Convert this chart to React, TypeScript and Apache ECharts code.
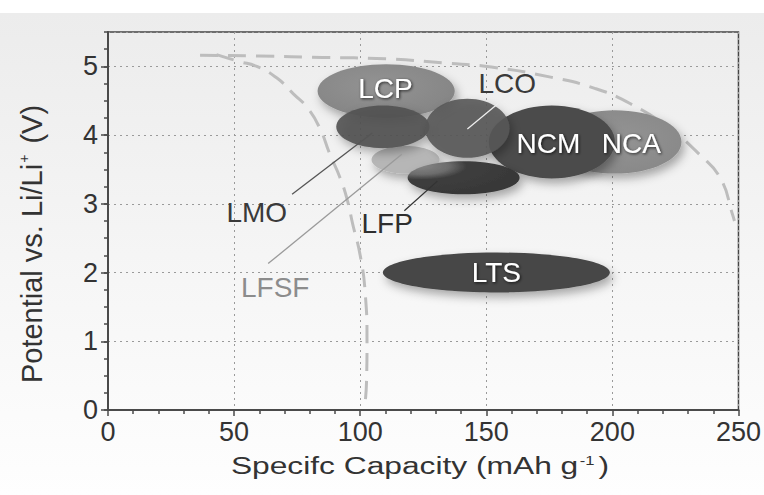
import React, { useEffect, useRef } from "react";
import * as echarts from "echarts";

// Cathode / anode material regions: centre and half-span on each axis
const materials = ["LCP", "LFSF", "LMO", "NCA", "NCM", "LCO", "LFP", "LTS"];
const capCenter = [110.3, 118, 109, 201, 176, 142.5, 141, 154];
const capHalf = [27.2, 13.5, 18.5, 26.4, 25, 16.7, 22.2, 45];
const volCenter = [4.64, 3.64, 4.12, 3.9, 3.9, 4.1, 3.38, 2.0];
const volHalf = [0.39, 0.2, 0.31, 0.46, 0.53, 0.43, 0.24, 0.29];

// Region labels and where they sit (data coordinates)
const labelNames = ["LCP", "LCO", "NCM", "NCA", "LMO", "LFSF", "LFP", "LTS"];
const labelCap = [110, 158.3, 174.6, 207.5, 59, 66.3, 110.7, 154];
const labelVol = [4.68, 4.75, 3.88, 3.88, 2.88, 1.78, 2.72, 2.0];

// Leader lines from outside labels to their regions
const leaderNames = ["LCO", "LMO", "LFSF", "LFP"];
const leaderFromCap = [159, 73, 63.5, 117.5];
const leaderFromVol = [4.59, 3.14, 2.13, 2.9];
const leaderToCap = [142.5, 104.8, 116.5, 130.6];
const leaderToVol = [4.09, 4.03, 3.72, 3.33];

// Dashed boundary curves
const outerCap = [36.5, 60, 85, 110, 133, 152, 176, 193, 207, 222.5, 234.5, 243, 247.6, 248.4];
const outerVol = [5.16, 5.15, 5.13, 5.11, 5.05, 4.99, 4.84, 4.68, 4.46, 4.1, 3.72, 3.36, 2.85, 2.75];
const innerCap = [43, 52, 59, 67, 73.5, 79, 84, 88, 92, 95, 97, 100, 102, 102.7, 102.5, 102];
const innerVol = [5.17, 5.07, 5.0, 4.83, 4.6, 4.4, 4.1, 3.72, 3.38, 3.04, 2.71, 2.25, 1.7, 1.0, 0.4, 0.12];

const xTicks = [0, 50, 100, 150, 200, 250];

const FONT = "'Liberation Sans', Arial, Helvetica, sans-serif";

const regionFill: Record<string, any> = {
  LCP: new echarts.graphic.RadialGradient(0.45, 0.4, 0.7, [
    { offset: 0, color: "#939393" },
    { offset: 1, color: "#838383" },
  ]),
  LFSF: "#b6b6b6",
  LMO: "rgba(82,82,82,0.9)",
  NCA: new echarts.graphic.RadialGradient(0.5, 0.45, 0.7, [
    { offset: 0, color: "#949494" },
    { offset: 1, color: "#868686" },
  ]),
  NCM: "#4b4b4b",
  LCO: "rgba(86,86,86,0.9)",
  LFP: new echarts.graphic.RadialGradient(0.12, 0.15, 0.9, [
    { offset: 0, color: "#858585" },
    { offset: 0.28, color: "#6c6c6c" },
    { offset: 0.45, color: "#3e3e3e" },
    { offset: 1, color: "#383838" },
  ]),
  LTS: "#464646",
};

const labelColor: Record<string, string> = {
  LCP: "#ffffff",
  LCO: "#3a3a3a",
  NCM: "#ffffff",
  NCA: "#ffffff",
  LMO: "#3a3a3a",
  LFSF: "#8c8c8c",
  LFP: "#2e2e2e",
  LTS: "#ffffff",
};

const leaderColor: Record<string, string> = {
  LCO: "#eeeeee",
  LMO: "#555555",
  LFSF: "#9a9a9a",
  LFP: "#333333",
};

export default function App() {
  const ref = useRef<HTMLDivElement>(null);

  useEffect(() => {
    if (!ref.current) return;
    const chart = echarts.init(ref.current, undefined, { renderer: "svg" });

    const axisColor = "#4a4a4a";

    const option: any = {
      animation: false,
      backgroundColor: "#ffffff",
      graphic: [
        {
          type: "rect",
          z: -10,
          silent: true,
          shape: { x: 0, y: 13, width: 764, height: 482 },
          style: {
            fill: new echarts.graphic.LinearGradient(0, 0, 0, 1, [
              { offset: 0, color: "#ececec" },
              { offset: 1, color: "#fefefe" },
            ]),
          },
        },
        {
          // capacity axis title, drawn wide
          type: "text",
          z: 10,
          silent: true,
          x: 420,
          y: 466,
          scaleX: 1.38,
          style: {
            text: "Specifc Capacity (mAh g{sup|-1})",
            fontFamily: FONT,
            fontSize: 23,
            fill: "#333",
            align: "center",
            verticalAlign: "middle",
            rich: {
              sup: { fontFamily: FONT, fontSize: 12, fill: "#333", verticalAlign: "top", padding: [0, 3, 4, 1] },
            },
          },
        },
      ],
      grid: {
        left: 108,
        right: 25,
        top: 32,
        bottom: 85,
        show: true,
        backgroundColor: "transparent",
        borderColor: "#444",
        borderWidth: 1.5,
      },
      xAxis: {
        type: "value",
        min: xTicks[0],
        max: xTicks[xTicks.length - 1],
        interval: 50,
        axisLine: { show: true, lineStyle: { color: axisColor, width: 2 } },
        axisTick: { show: true, length: 6, inside: false, lineStyle: { color: axisColor, width: 1.5 } },
        minorTick: { show: true, splitNumber: 5, length: 4, lineStyle: { color: axisColor, width: 1.5 } },
        axisLabel: { fontFamily: FONT, fontSize: 27, color: "#333", margin: 8 },
        splitLine: { show: true, lineStyle: { color: "#9a9a9a", type: [2, 4], width: 1 } },
      },
      yAxis: [
        {
          type: "value",
          min: 0,
          max: 5.5,
          interval: 1,
          name: "Potential vs. Li/Li{sup|+} (V)",
          nameLocation: "middle",
          nameGap: 62,
          nameTextStyle: {
            fontFamily: FONT,
            fontSize: 29,
            color: "#333",
            padding: [0, 46, 0, 0],
            rich: {
              sup: { fontFamily: FONT, fontSize: 14, color: "#333", verticalAlign: "top", padding: [0, 3, 0, 1] },
            },
          },
          axisLine: { show: true, lineStyle: { color: axisColor, width: 2 } },
          axisTick: { show: true, length: 7, inside: false, lineStyle: { color: axisColor, width: 1.5 } },
          axisLabel: { fontFamily: FONT, fontSize: 27, color: "#333", margin: 10, showMaxLabel: false },
          splitLine: { show: true, lineStyle: { color: "#9a9a9a", type: [2, 4], width: 1 } },
        },
        {
          // quarter-volt ticks along the potential axis
          type: "value",
          min: 0,
          max: 5.5,
          interval: 0.25,
          position: "left",
          axisLine: { show: false },
          axisTick: { show: true, length: 4, inside: false, lineStyle: { color: axisColor, width: 1.5 } },
          axisLabel: { show: false },
          splitLine: { show: false },
        },
      ],
      series: [
        {
          type: "line",
          z: 1,
          smooth: true,
          symbol: "none",
          data: outerCap.map((c, i) => [c, outerVol[i]]),
          lineStyle: { color: "#bdbdbd", width: 3, type: [18, 10] },
          silent: true,
        },
        {
          type: "line",
          z: 1,
          smooth: true,
          symbol: "none",
          data: innerCap.map((c, i) => [c, innerVol[i]]),
          lineStyle: { color: "#bdbdbd", width: 3, type: [18, 10] },
          silent: true,
        },
        {
          type: "custom",
          z: 2,
          silent: true,
          data: materials.map((m, i) => [capCenter[i], volCenter[i], capHalf[i], volHalf[i], i]),
          encode: { x: 0, y: 1 },
          renderItem: (params: any, api: any) => {
            const i = api.value(4);
            const name = materials[i];
            const c = api.coord([api.value(0), api.value(1)]);
            const s = api.size([api.value(2), api.value(3)]);
            return {
              type: "ellipse",
              shape: { cx: c[0], cy: c[1], rx: s[0], ry: s[1] },
              style: {
                fill: regionFill[name],
                shadowBlur: 10,
                shadowColor: "rgba(0,0,0,0.32)",
                shadowOffsetX: 3,
                shadowOffsetY: 5,
              },
            };
          },
        },
        {
          type: "custom",
          z: 3,
          silent: true,
          data: leaderNames.map((n, i) => [leaderFromCap[i], leaderFromVol[i], leaderToCap[i], leaderToVol[i], i]),
          encode: { x: [0, 2], y: [1, 3] },
          renderItem: (params: any, api: any) => {
            const i = api.value(4);
            const a = api.coord([api.value(0), api.value(1)]);
            const b = api.coord([api.value(2), api.value(3)]);
            return {
              type: "line",
              shape: { x1: a[0], y1: a[1], x2: b[0], y2: b[1] },
              style: { stroke: leaderColor[leaderNames[i]], lineWidth: 1.3 },
            };
          },
        },
        {
          type: "custom",
          z: 4,
          silent: true,
          data: labelNames.map((n, i) => [labelCap[i], labelVol[i], i]),
          encode: { x: 0, y: 1 },
          renderItem: (params: any, api: any) => {
            const i = api.value(2);
            const name = labelNames[i];
            const p = api.coord([api.value(0), api.value(1)]);
            const white = labelColor[name] === "#ffffff";
            return {
              type: "text",
              x: p[0],
              y: p[1],
              style: {
                text: name,
                fill: labelColor[name],
                fontFamily: FONT,
                fontSize: 28,
                align: "center",
                verticalAlign: "middle",
                textShadowColor: white ? "rgba(0,0,0,0.75)" : "transparent",
                textShadowBlur: white ? 3 : 0,
                textShadowOffsetX: white ? 1 : 0,
                textShadowOffsetY: white ? 1 : 0,
              },
            };
          },
        },
      ],
    };

    chart.setOption(option);
    return () => chart.dispose();
  }, []);

  return (
    <div
      ref={ref}
      style={{ position: "fixed", left: 0, top: 0, width: 764, height: 495 }}
    />
  );
}
